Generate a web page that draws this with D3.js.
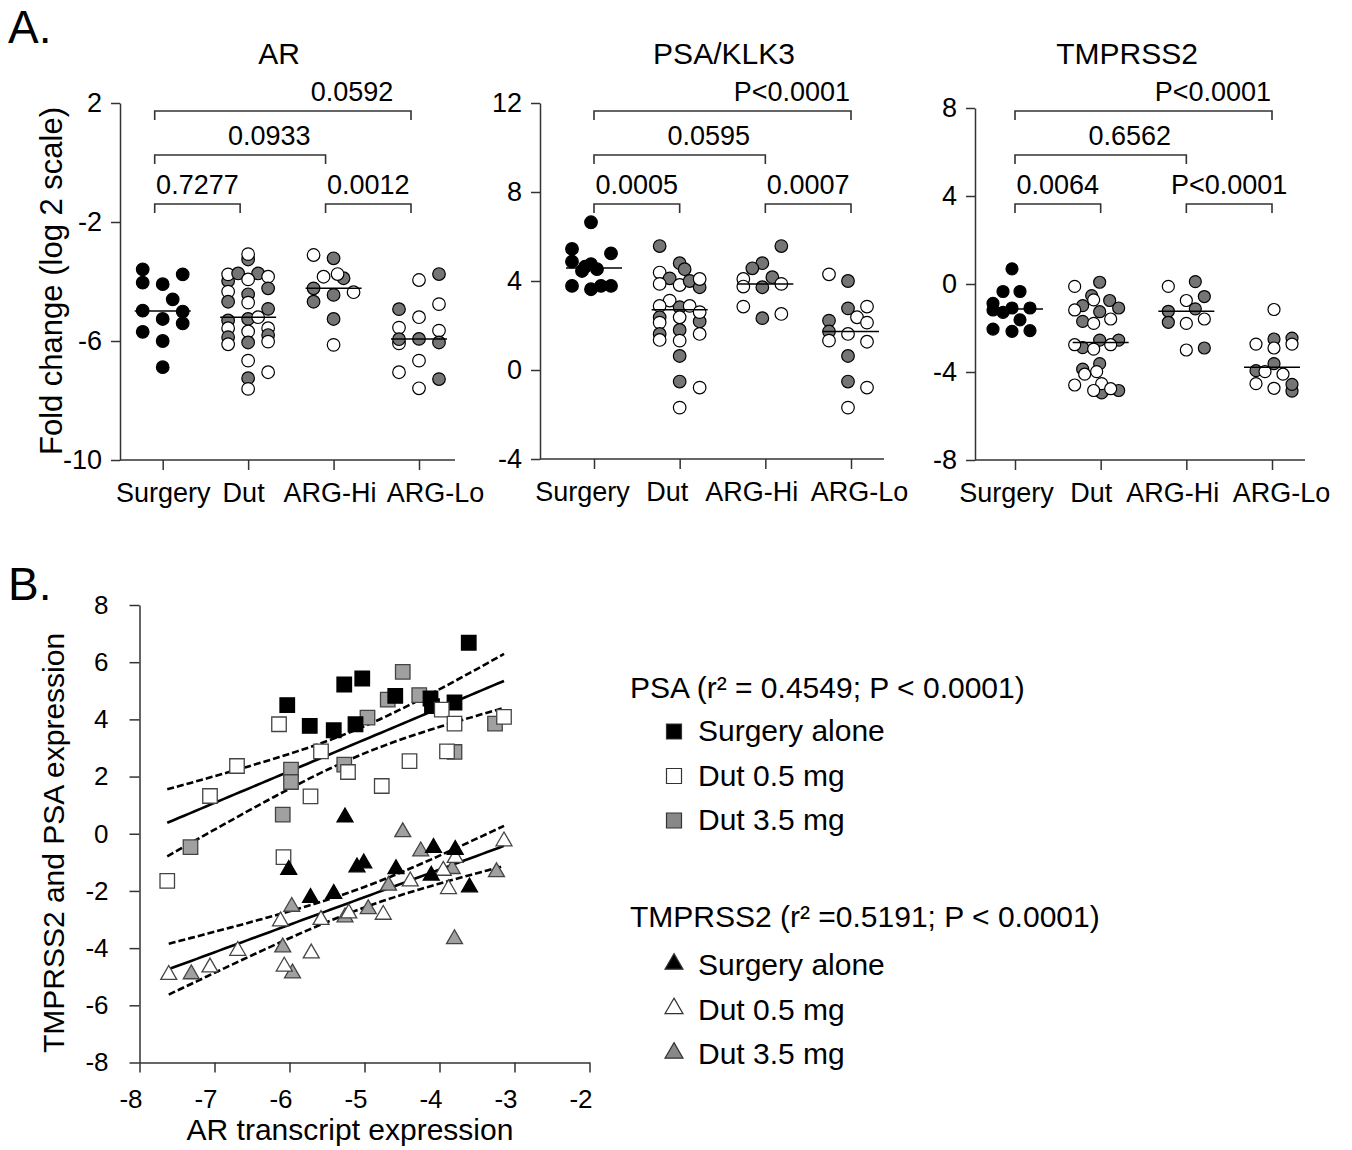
<!DOCTYPE html>
<html>
<head>
<meta charset="utf-8">
<script src="https://cdn.jsdelivr.net/npm/d3@7"></script>
<style>
  body { margin: 0; background: #fff; }
  svg text { font-family: "Liberation Sans", Arial, sans-serif; fill: #000; }
</style>
</head>
<body>
<div id="chart"></div>
<script>
var categories = ["Surgery", "Dut", "ARG-Hi", "ARG-Lo"];

// panel A dots: [value, dose group, lane]   S = surgery alone, L = Dut 0.5 mg, H = Dut 3.5 mg
var arSurgery = [[-3.59,"S",-2],[-4.04,"S",-2],[-4.09,"S",0],[-3.76,"S",2],[-4.60,"S",1],[-4.98,"S",-2],
  [-5.26,"S",0],[-5.01,"S",2],[-5.41,"S",2],[-5.69,"S",-2],[-6.00,"S",0],[-6.88,"S",0]];
var arDut = [[-3.26,"H",0],[-3.08,"L",0],[-3.98,"H",-2],[-3.76,"L",-2],[-3.73,"H",-1],[-3.73,"H",1],
  [-3.84,"L",2],[-3.93,"L",0],[-4.23,"H",2],[-4.34,"L",-2],[-4.43,"H",0],[-4.68,"H",-2],[-4.71,"L",0],
  [-4.92,"H",2],[-5.26,"H",0],[-5.20,"L",1],[-5.31,"H",-2],[-5.57,"L",-2],[-5.68,"L",0],[-5.57,"L",2],
  [-5.87,"H",-2],[-5.80,"H",2],[-6.11,"L",-2],[-6.05,"H",0],[-6.02,"L",2],[-6.66,"L",0],[-7.05,"L",2],
  [-7.25,"H",0],[-7.61,"L",0]];
var arHi = [[-3.11,"L",-2],[-3.22,"H",0],[-3.89,"H",1],[-3.84,"L",-1],[-3.75,"L",0.4],[-4.23,"H",-2],
  [-4.45,"H",0],[-4.36,"L",2],[-4.68,"H",-2],[-5.26,"H",0],[-6.13,"L",0]];
var arLo = [[-3.75,"H",2],[-3.95,"L",0],[-4.76,"L",2],[-4.93,"H",-2],[-5.20,"L",0],[-5.55,"L",-2],
  [-5.65,"L",2],[-6.08,"L",-2],[-5.94,"H",-2],[-5.93,"H",0],[-6.05,"H",2],[-6.66,"L",0],[-7.05,"L",-2],
  [-7.28,"H",2],[-7.59,"L",0]];

var psaSurgeryA = [[6.64,"S",-0.3],[5.44,"S",-2.2],[5.24,"S",1.7],[4.87,"S",-2.2],[4.76,"S",-0.3],[4.45,"S",-1.2],
  [4.53,"S",0.3],[4.64,"S",-0.9],[3.78,"S",-2.2],[3.63,"S",-0.3],[3.78,"S",0.7],[3.78,"S",1.7]];
var psaDutA = [[5.57,"H",-2],[4.80,"H",0],[4.53,"H",0.5],[4.38,"L",-2],[4.12,"H",-1],[3.87,"L",-2],[3.82,"L",0],
  [4.00,"H",1],[3.72,"H",2],[4.09,"L",2],[3.12,"L",-1],[2.88,"L",-2],[2.82,"H",0],[2.88,"L",1],[2.18,"H",2],
  [2.60,"L",2],[2.37,"L",0],[2.37,"H",-2],[2.13,"L",-2],[1.80,"H",0],[1.62,"H",-2],[1.62,"L",2],[1.35,"L",-2],
  [1.32,"L",0],[0.63,"H",0],[-0.52,"H",0],[-0.79,"L",2],[-1.69,"L",0]];
var psaHiA = [[5.57,"H",1.6],[4.80,"H",-0.3],[4.57,"H",-1.3],[4.17,"H",0.7],[4.09,"L",-2.2],[3.75,"L",-2.2],
  [3.87,"L",1.6],[3.72,"H",-0.3],[2.85,"L",-2.2],[2.33,"H",-0.3],[2.52,"L",1.6]];
var psaLoA = [[4.30,"L",-2.2],[4.00,"H",-0.3],[2.77,"H",-0.3],[2.85,"L",1.6],[2.37,"L",0.6],[2.13,"L",1.6],
  [2.22,"H",-2.2],[1.73,"H",-2.2],[1.32,"L",-2.2],[1.62,"L",-0.3],[1.27,"L",1.6],[0.63,"H",-0.3],
  [-0.52,"H",-0.3],[-0.79,"L",1.6],[-1.69,"L",-0.3]];

var tmpSurgeryA = [[0.69,"S",-0.3],[-0.34,"S",-1.2],[-0.34,"S",0.5],[-0.88,"S",-2.2],[-1.18,"S",-2.2],
  [-1.09,"S",-0.3],[-1.29,"S",-1.2],[-1.09,"S",1.5],[-1.63,"S",0.5],[-2.05,"S",-2.2],[-2.15,"S",-0.3],[-2.12,"S",1.5]];
var tmpDutA = [[0.08,"H",-0.1],[-0.11,"L",-2.6],[-0.53,"H",-0.9],[-0.72,"L",-0.7],[-0.75,"H",0.9],[-0.98,"H",-1.8],
  [-1.18,"L",-2.6],[-1.09,"H",1.8],[-1.26,"H",-0.1],[-1.70,"H",-1.8],[-1.59,"L",1.0],[-1.79,"L",-0.7],
  [-2.55,"H",-0.1],[-2.55,"H",1.8],[-2.89,"H",-1.8],[-2.76,"L",-2.6],[-2.96,"L",-0.7],[-2.76,"L",1.0],
  [-3.62,"H",-0.1],[-3.87,"H",-1.8],[-4.10,"L",-1.6],[-3.98,"L",-0.4],[-4.59,"L",-2.6],[-4.95,"H",0.1],
  [-4.53,"L",0.1],[-4.84,"L",-0.7],[-4.84,"H",1.8],[-4.76,"L",1.0]];
var tmpHiA = [[-0.11,"L",-1.8],[0.11,"H",0.9],[-0.57,"H",1.8],[-0.75,"L",0],[-1.13,"H",0.9],[-1.24,"H",-1.8],
  [-1.59,"L",1.8],[-1.74,"H",-1.8],[-1.79,"L",0],[-3.00,"L",0],[-2.91,"H",1.8]];
var tmpLoA = [[-1.16,"L",0.2],[-2.50,"H",0.2],[-2.46,"H",2.0],[-2.73,"L",-1.6],[-2.91,"L",0.2],[-2.73,"L",2.0],
  [-3.62,"H",0.2],[-3.94,"H",-1.6],[-3.98,"L",-0.7],[-4.10,"L",1.1],[-4.53,"L",-1.6],[-4.74,"L",0.2],
  [-4.87,"H",2.0],[-4.56,"H",2.0]];

var arTicks = [2, -2, -6, -10];
var psaTicks = [12, 8, 4, 0, -4];
var tmpTicks = [8, 4, 0, -4, -8];

// brackets: [from, to, p value]
var arPvals = [["Surgery","ARG-Lo","0.0592"],["Surgery","ARG-Hi","0.0933"],["Surgery","Dut","0.7277"],["ARG-Hi","ARG-Lo","0.0012"]];
var psaPvals = [["Surgery","ARG-Lo","P<0.0001"],["Surgery","ARG-Hi","0.0595"],["Surgery","Dut","0.0005"],["ARG-Hi","ARG-Lo","0.0007"]];
var tmpPvals = [["Surgery","ARG-Lo","P<0.0001"],["Surgery","ARG-Hi","0.6562"],["Surgery","Dut","0.0064"],["ARG-Hi","ARG-Lo","P<0.0001"]];

// panel B: [AR, target]
var psaSurgery = [[-6.03,4.50],[-5.73,3.77],[-5.41,3.62],[-5.27,5.22],[-5.03,5.43],[-5.12,3.83],[-4.59,4.82],
  [-4.12,4.73],[-4.10,4.46],[-3.80,4.59],[-3.61,6.68]];
var psaDut05 = [[-6.14,3.83],[-5.58,2.88],[-6.70,2.37],[-7.06,1.32],[-5.72,1.31],[-5.22,2.16],[-6.08,-0.82],
  [-7.63,-1.65],[-4.77,1.67],[-4.40,2.54],[-3.97,4.34],[-3.80,3.85],[-3.90,2.88],[-3.14,4.09]];
var psaDut35 = [[-5.98,2.24],[-5.98,1.81],[-6.09,0.67],[-7.32,-0.47],[-5.27,2.42],[-4.49,5.66],[-4.69,4.69],
  [-4.27,4.85],[-4.96,4.06],[-3.80,2.86],[-3.26,3.85]];
var tmpSurgery = [[-5.26,0.58],[-6.01,-1.26],[-5.10,-1.17],[-5.01,-1.03],[-5.72,-2.24],[-5.41,-2.10],[-4.58,-1.23],
  [-4.08,-0.49],[-3.79,-0.56],[-4.11,-1.46],[-3.60,-1.87]];
var tmpDut05 = [[-3.14,-0.26],[-3.79,-0.84],[-3.95,-1.29],[-3.88,-1.93],[-4.39,-1.66],[-4.75,-2.83],[-5.21,-2.78],
  [-5.58,-3.01],[-6.12,-3.06],[-6.69,-4.09],[-5.71,-4.18],[-6.07,-4.64],[-7.06,-4.67],[-7.61,-4.93]];
var tmpDut35 = [[-4.49,0.06],[-4.25,-0.61],[-3.83,-1.23],[-4.68,-1.81],[-3.24,-1.34],[-5.97,-2.55],[-4.95,-2.63],
  [-5.26,-2.92],[-6.09,-3.97],[-3.80,-3.68],[-5.96,-4.88],[-7.31,-4.91]];

var bTicksX = [-8, -7, -6, -5, -4, -3, -2];
var bTicksY = [8, 6, 4, 2, 0, -2, -4, -6, -8];
var doseLabels = ["Surgery alone", "Dut 0.5 mg", "Dut 3.5 mg"];
var psaHeader = "PSA (r\u00b2 = 0.4549; P < 0.0001)";
var tmpHeader = "TMPRSS2 (r\u00b2 =0.5191; P < 0.0001)";

var width = 1352, height = 1150;
var svg = d3.select("#chart").append("svg").attr("width", width).attr("height", height);

var fillA = {S: "#000", L: "#fff", H: "#757575"};
var fillB = {S: "#000", L: "#fff", H: "#a0a0a0"};
var plain = function (d) { return String(d); };   // hyphen minus, as in the figure

svg.append("text").attr("x", 8).attr("y", 43).style("font-size", "46px").text("A.");
svg.append("text").attr("x", 8).attr("y", 600).style("font-size", "46px").text("B.");

var panels = [
  {title: "AR", tx: 279, groups: [arSurgery, arDut, arHi, arLo], ticks: arTicks, domain: [-10, 2],
   ax: 120, top: 103, bottom: 460, xr: [162.7, 419], end: 455, shift: -8, pv: arPvals, r: 6.3,
   labelDx: [0, -5, -4, 16]},
  {title: "PSA/KLK3", tx: 724, groups: [psaSurgeryA, psaDutA, psaHiA, psaLoA], ticks: psaTicks, domain: [-4, 12],
   ax: 540, top: 103, bottom: 459, xr: [594, 851], end: 884, shift: 0, pv: psaPvals, r: 6.3,
   labelDx: [-12, -13, -14, 8]},
  {title: "TMPRSS2", tx: 1127, groups: [tmpSurgeryA, tmpDutA, tmpHiA, tmpLoA], ticks: tmpTicks, domain: [-8, 8],
   ax: 975, top: 108, bottom: 460, xr: [1015, 1272], end: 1305, shift: 0, pv: tmpPvals, r: 6,
   labelDx: [-9, -10, -14, 9]}
];

var levelY = [111, 155, 204];
var labelAt = [0.77, 0.67, 0.5];

panels.forEach(function (p) {
  var g = svg.append("g");
  var y = d3.scaleLinear().domain(p.domain).range([p.bottom, p.top]);
  var x = d3.scalePoint().domain(categories).range(p.xr);

  g.append("text").attr("x", p.tx).attr("y", 64).attr("text-anchor", "middle")
    .style("font-size", "30px").text(p.title);

  var yAxis = g.append("g").attr("transform", "translate(" + p.ax + ",0)")
    .call(d3.axisLeft(y).tickValues(p.ticks).tickSize(9).tickPadding(9).tickSizeOuter(0).tickFormat(plain));
  yAxis.selectAll("text").style("font-size", "27px");

  var xAxis = g.append("g").attr("transform", "translate(0," + p.bottom + ")")
    .call(d3.axisBottom(x).tickSize(10).tickPadding(13));
  xAxis.select(".domain").remove();
  xAxis.selectAll("text").style("font-size", "27px").attr("dx", function (d, i) { return p.labelDx[i]; });
  g.append("line").attr("x1", p.ax).attr("x2", p.end).attr("y1", p.bottom).attr("y2", p.bottom);

  g.selectAll(".domain, .tick line, line").attr("stroke", "#333").attr("stroke-width", 1.5);

  // brackets
  p.pv.forEach(function (b, i) {
    var lv = Math.min(i, 2);
    var x1 = x(b[0]) + p.shift, x2 = x(b[1]) + p.shift, yy = levelY[lv];
    g.append("path").attr("d", "M" + x1 + "," + (yy + 9) + "V" + yy + "H" + x2 + "V" + (yy + 9))
      .attr("fill", "none").attr("stroke", "#333").attr("stroke-width", 1.6);
    g.append("text").attr("x", x1 + (x2 - x1) * labelAt[lv]).attr("y", yy - 10)
      .attr("text-anchor", "middle").style("font-size", "27px").text(b[2]);
  });

  // dots
  p.groups.forEach(function (pts, ci) {
    var cx = x(categories[ci]);
    g.append("g").selectAll("circle").data(pts).enter().append("circle")
      .attr("cx", function (d) { return cx + d[2] * 10; })
      .attr("cy", function (d) { return y(d[0]); })
      .attr("r", p.r)
      .attr("fill", function (d) { return fillA[d[1]]; })
      .attr("stroke", "#000").attr("stroke-width", 1.2);
    var med = d3.median(pts, function (d) { return d[0]; });
    g.append("line").attr("x1", cx - 28).attr("x2", cx + 28).attr("y1", y(med)).attr("y2", y(med))
      .attr("stroke", "#000").attr("stroke-width", 1.5);
  });
});

svg.append("text").attr("transform", "translate(62,281) rotate(-90)").attr("text-anchor", "middle")
  .style("font-size", "31px").text("Fold change (log 2 scale)");

// panel B
var xB = d3.scaleLinear().domain([-8, -2]).range([139.5, 589.5]);
var yB = d3.scaleLinear().domain([-8, 8]).range([1062.5, 605]);
var gB = svg.append("g");

var axB = gB.append("g").attr("transform", "translate(0," + yB(-8) + ")")
  .call(d3.axisBottom(xB).tickValues(bTicksX).tickSize(10).tickPadding(17).tickSizeOuter(0).tickFormat(plain));
axB.selectAll("text").style("font-size", "26px").attr("dx", -9);
var ayB = gB.append("g").attr("transform", "translate(" + xB(-8) + ",0)")
  .call(d3.axisLeft(yB).tickValues(bTicksY).tickSize(10).tickPadding(21).tickSizeOuter(0).tickFormat(plain));
ayB.selectAll("text").style("font-size", "26px");
gB.selectAll(".domain, .tick line").attr("stroke", "#333").attr("stroke-width", 1.5);

gB.append("text").attr("x", 350).attr("y", 1140).attr("text-anchor", "middle")
  .style("font-size", "30px").text("AR transcript expression");
gB.append("text").attr("transform", "translate(64,843) rotate(-90)").attr("text-anchor", "middle")
  .style("font-size", "30px").text("TMPRSS2 and PSA expression");

function regression(pts) {
  var n = pts.length;
  var mx = d3.mean(pts, function (d) { return d[0]; }), my = d3.mean(pts, function (d) { return d[1]; });
  var sxx = d3.sum(pts, function (d) { return (d[0] - mx) * (d[0] - mx); });
  var sxy = d3.sum(pts, function (d) { return (d[0] - mx) * (d[1] - my); });
  var b = sxy / sxx, a = my - b * mx;
  var sse = d3.sum(pts, function (d) { var e = d[1] - a - b * d[0]; return e * e; });
  var s = Math.sqrt(sse / (n - 2)), t = 2.03;
  var ext = d3.extent(pts, function (d) { return d[0]; });
  var xs = d3.range(ext[0], ext[1], (ext[1] - ext[0]) / 60).concat([ext[1]]);
  return xs.map(function (xv) {
    var fitv = a + b * xv, h = t * s * Math.sqrt(1 / n + (xv - mx) * (xv - mx) / sxx);
    return {x: xv, y: fitv, lo: fitv - h, hi: fitv + h};
  });
}

function drawFit(pts) {
  var band = regression(pts);
  var mk = function (key) {
    return d3.line().x(function (d) { return xB(d.x); }).y(function (d) { return yB(d[key]); });
  };
  gB.append("path").datum(band).attr("d", mk("y")).attr("fill", "none").attr("stroke", "#000").attr("stroke-width", 2.6);
  ["lo", "hi"].forEach(function (k) {
    gB.append("path").datum(band).attr("d", mk(k)).attr("fill", "none").attr("stroke", "#000")
      .attr("stroke-width", 2.6).attr("stroke-dasharray", "7,3");
  });
}
drawFit(psaSurgery.concat(psaDut05, psaDut35));
drawFit(tmpSurgery.concat(tmpDut05, tmpDut35));

var sq = d3.symbol().type(d3.symbolSquare).size(210);
var tri = d3.symbol().type(d3.symbolTriangle).size(110);

function drawMarks(pts, sym, grp) {
  gB.append("g").selectAll("path").data(pts).enter().append("path")
    .attr("transform", function (d) { return "translate(" + xB(d[0]) + "," + yB(d[1]) + ")"; })
    .attr("d", sym)
    .attr("fill", fillB[grp])
    .attr("stroke", grp === "S" ? "#000" : "#444").attr("stroke-width", 1.3);
}
drawMarks(psaDut35, sq, "H");
drawMarks(psaSurgery, sq, "S");
drawMarks(psaDut05, sq, "L");
drawMarks(tmpDut35, tri, "H");
drawMarks(tmpDut05, tri, "L");
drawMarks(tmpSurgery, tri, "S");

// legend
var legSq = d3.symbol().type(d3.symbolSquare).size(225);
var legTri = d3.symbol().type(d3.symbolTriangle).size(140);
var groups = ["S", "L", "H"];
[[psaHeader, 698, legSq, 741, -9.5], [tmpHeader, 927, legTri, 975, -11]].forEach(function (L) {
  gB.append("text").attr("x", 630).attr("y", L[1]).style("font-size", "30px").text(L[0]);
  groups.forEach(function (grp, i) {
    var base = L[3] + i * 44.5;
    gB.append("path").attr("transform", "translate(674," + (base + L[4]) + ")").attr("d", L[2])
      .attr("fill", grp === "H" ? "#888" : fillB[grp]).attr("stroke", "#333").attr("stroke-width", 1.2);
    gB.append("text").attr("x", 698).attr("y", base).style("font-size", "30px").text(doseLabels[i]);
  });
});
</script>
</body>
</html>
